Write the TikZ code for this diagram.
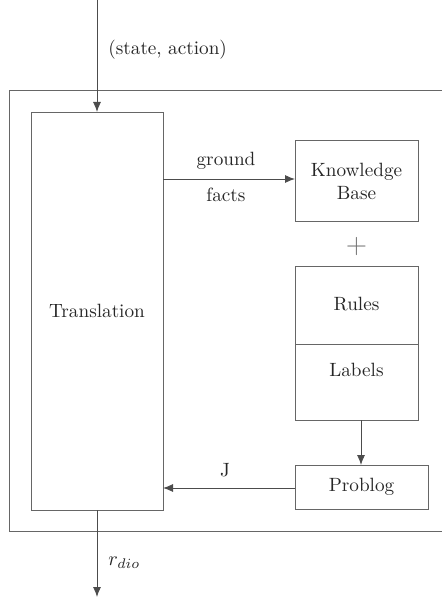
\documentclass[tikz,border=0pt]{standalone}
\usetikzlibrary{arrows.meta}
\begin{document}
\begin{tikzpicture}[x=0.5pt,y=-0.5pt,
  frame/.style={draw=black!60, line width=0.45pt},
  box/.style={draw=black!60, line width=0.45pt},
  flow/.style={draw=black!70, line width=0.45pt, -{Latex[length=5pt,width=4pt]}},
  lbl/.style={font=\fontsize{9.6}{11.5}\selectfont, text=black!85, inner sep=0pt}]
\useasboundingbox (0,0) rectangle (441,598);
% outer frame, open to the right
\draw[frame] (460,90) -- (9,90) -- (9,531) -- (460,531);
% boxes
\draw[box] (31,112) rectangle (163,510);
\node[lbl] (trans) at (97,311) {Translation};
\coordinate (transTop) at (97,112);
\coordinate (transBot) at (97,510);
\coordinate (transFact) at (163,179);
\coordinate (transJ) at (163,488);

\draw[box] (295,140) rectangle (418,221);
\node[lbl, align=center] (kb) at (356.5,181) {Knowledge\\Base};
\coordinate (kbIn) at (295,179);

\node[lbl, font=\fontsize{14}{14}\selectfont, text=black!55] (plus) at (356.5,247) {+};

\draw[box] (295,266) rectangle (418,420);
\draw[box] (295,344) -- (418,344);
\node[lbl] (rules) at (356.5,304) {Rules};
\node[lbl] (labels) at (356.5,370) {Labels};
\coordinate (rlOut) at (361,420);

\draw[box] (295,465) rectangle (428,509);
\node[lbl] (problog) at (361.5,487) {Problog};
\coordinate (pbIn) at (361,465);
\coordinate (pbOut) at (295,488);

% connectors
\coordinate (src) at (97,0);
\coordinate (sink) at (97,597);
\draw[flow] (src) -- (transTop);
\node[lbl, anchor=west] (sa) at (108,50) {(state, action)};
\draw[flow] (transFact) -- (kbIn);
\node[lbl] (ground) at (226,161) {ground};
\node[lbl] (facts) at (226,195) {facts};
\draw[flow] (rlOut) -- (pbIn);
\draw[flow] (pbOut) -- (transJ);
\node[lbl] (j) at (225,470) {J};
\draw[flow] (transBot) -- (sink);
\node[lbl, anchor=west] (r) at (108,563) {$r_{dio}$};
\end{tikzpicture}
\end{document}
